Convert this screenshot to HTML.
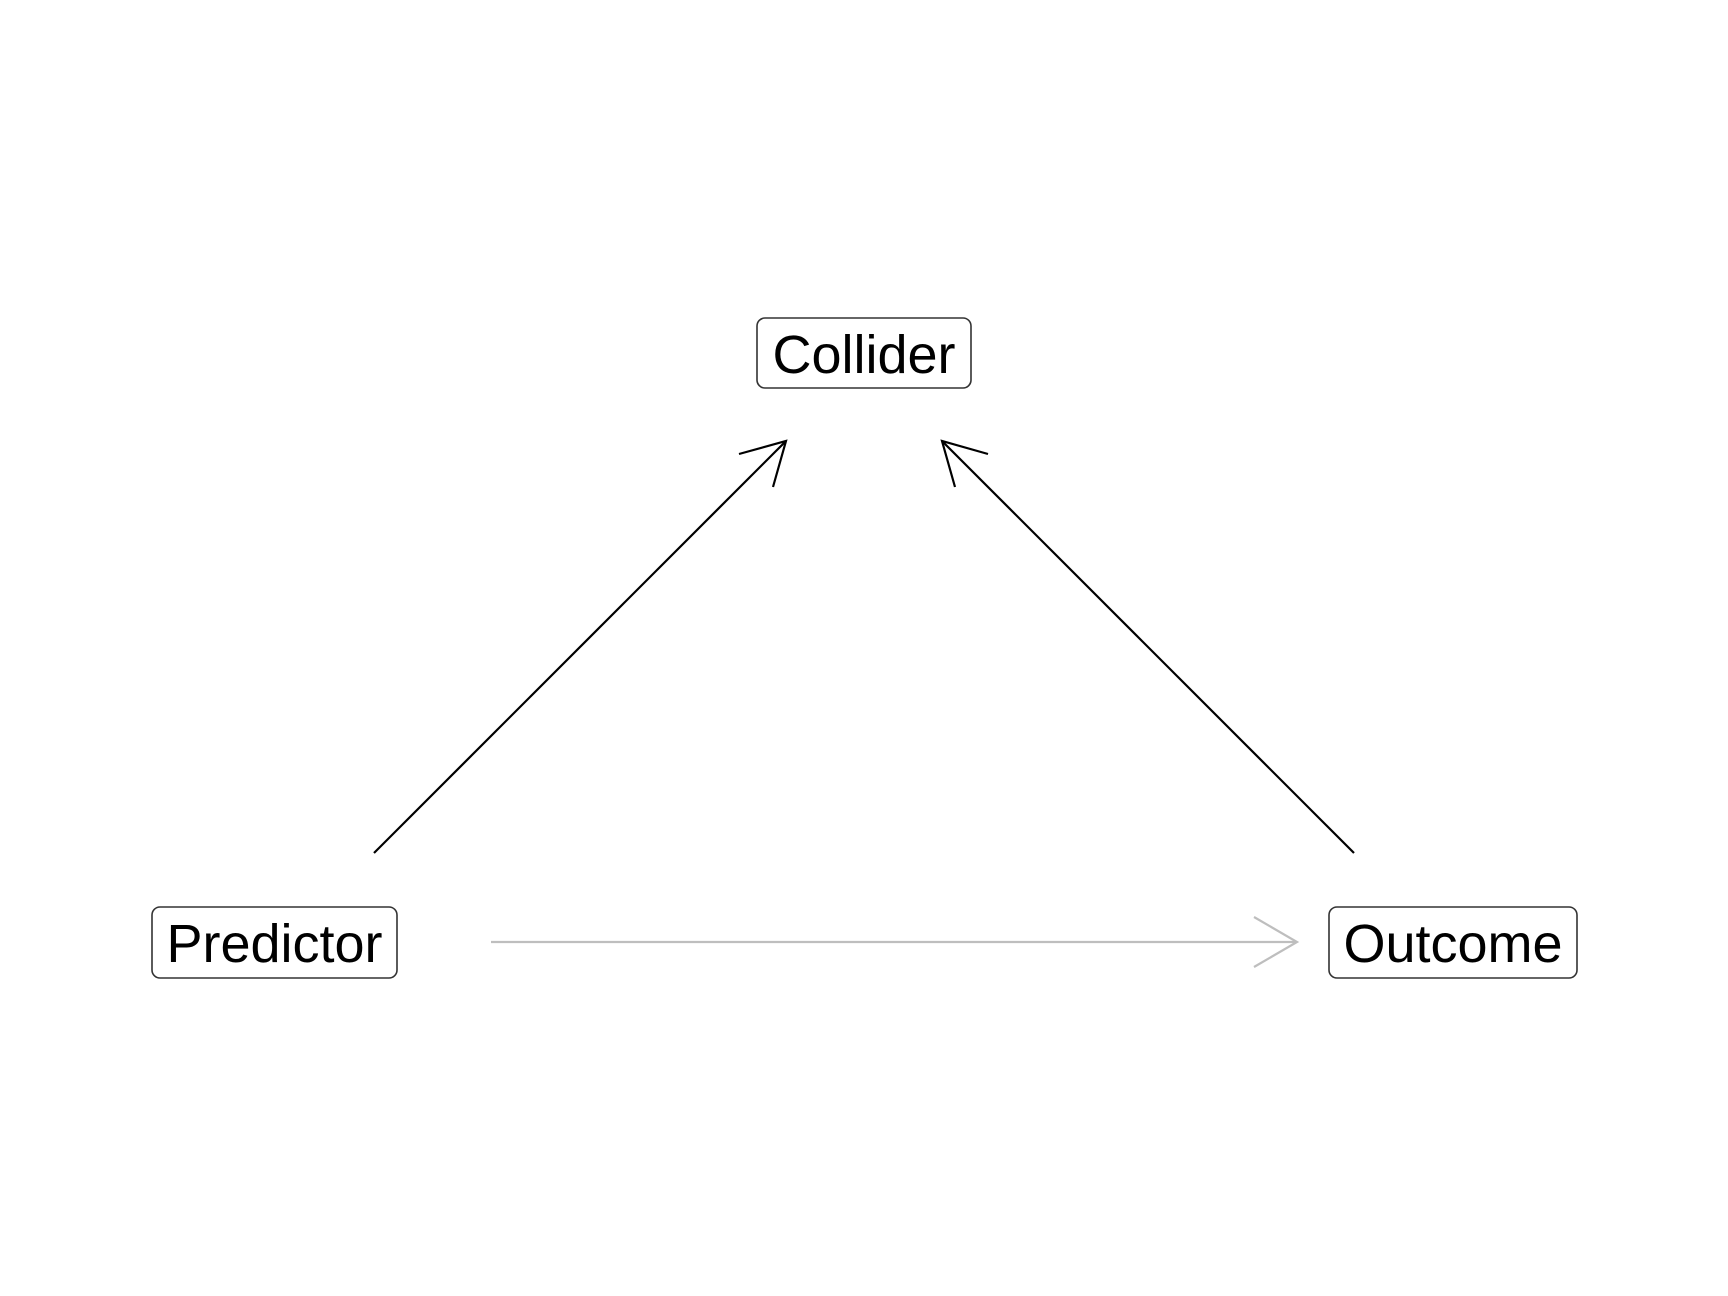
<!DOCTYPE html>
<html><head><meta charset="utf-8"><style>
html,body{margin:0;padding:0;background:#fff;}
svg{display:block;}
text{font-family:"Liberation Sans",Arial,sans-serif;font-size:54px;fill:#000;}
</style></head><body>
<svg width="1728" height="1296" viewBox="0 0 1728 1296" xmlns="http://www.w3.org/2000/svg">
<rect width="1728" height="1296" fill="#fff"/>
<g fill="none" stroke-linecap="butt">
<line x1="374" y1="853" x2="786" y2="441" stroke="#000" stroke-width="2.2"/>
<polyline points="739,454 786,441 773,487" stroke="#000" stroke-width="2.2"/>
<line x1="1354" y1="853" x2="942" y2="441" stroke="#000" stroke-width="2.2"/>
<polyline points="988,454 942,441 955,487" stroke="#000" stroke-width="2.2"/>
<line x1="491" y1="942" x2="1296" y2="942" stroke="#bebebe" stroke-width="2.2"/>
<polyline points="1254,917 1297,942 1254,967" stroke="#bebebe" stroke-width="2.2"/>
</g>
<g fill="#fff" stroke="#333" stroke-width="1.6">
<rect x="757" y="318" width="214" height="70" rx="8"/>
<rect x="152" y="907" width="245" height="71" rx="8"/>
<rect x="1329" y="907" width="248" height="71" rx="8"/>
</g>
<text x="864" y="373" text-anchor="middle">Collider</text>
<text x="274.5" y="962" text-anchor="middle">Predictor</text>
<text x="1453" y="962" text-anchor="middle">Outcome</text>
</svg>
</body></html>
